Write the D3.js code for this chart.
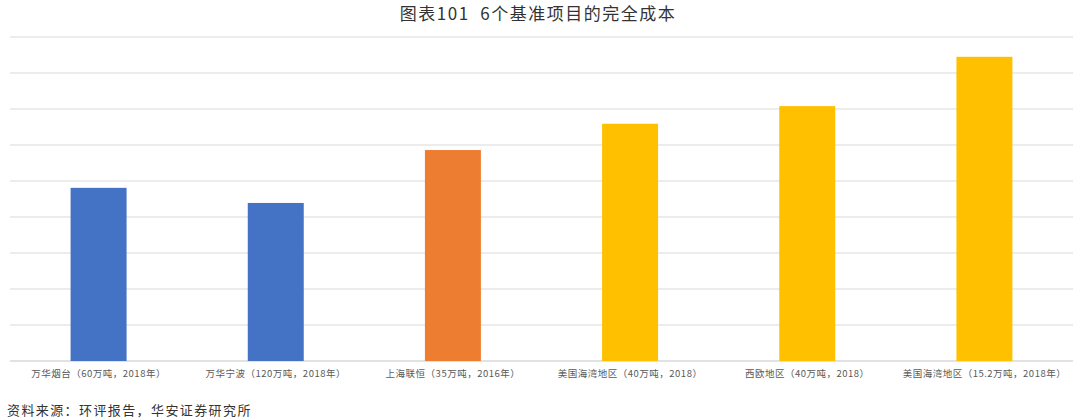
<!DOCTYPE html>
<html>
<head>
<meta charset="utf-8">
<script src="https://cdn.jsdelivr.net/npm/d3@7"></script>
<style>
  body { margin: 0; background: #fff; }
  text { font-family: "Noto Sans CJK SC", "Noto Sans", sans-serif; }
</style>
</head>
<body>
<div id="chart"></div>
<script>
var width = 1080,
    height = 420;

// data (no axis labels in the original, unit = gridline step 200)
var categories = [
    "万华烟台（60万吨，2018年）",
    "万华宁波（120万吨，2018年）",
    "上海联恒（35万吨，2016年）",
    "美国海湾地区（40万吨，2018）",
    "西欧地区（40万吨，2018）",
    "美国海湾地区（15.2万吨，2018年）"
];
var costs = [962, 878, 1172, 1318, 1416, 1690];
var barColors = ["#4472C4", "#4472C4", "#ED7D31", "#FFC000", "#FFC000", "#FFC000"];
var gridTicks = [0, 200, 400, 600, 800, 1000, 1200, 1400, 1600, 1800];

var margin = {top: 37, right: 7, bottom: 59, left: 10};

var svg = d3.select("#chart").append("svg")
    .attr("width", width)
    .attr("height", height);

var x = d3.scaleBand()
    .domain(categories)
    .range([margin.left, width - margin.right])
    .paddingInner(0.684)
    .paddingOuter(0.342);

var y = d3.scaleLinear()
    .domain([0, 1800])
    .range([height - margin.bottom, margin.top]);

// title
svg.append("text")
    .attr("x", 538)
    .attr("y", 20)
    .attr("text-anchor", "middle")
    .attr("font-size", "17px")
    .attr("letter-spacing", "1.5px")
    .attr("fill", "#333")
    .style("white-space", "pre")
    .text("图表101  6个基准项目的完全成本");

// gridlines
svg.append("g")
    .selectAll("line")
    .data(gridTicks)
    .enter().append("line")
    .attr("x1", margin.left)
    .attr("x2", width - margin.right)
    .attr("y1", function (d) { return y(d); })
    .attr("y2", function (d) { return y(d); })
    .style("stroke", function (d) { return d === 0 ? "#d9d9d9" : "#e6e6e6"; })
    .style("stroke-width", 1.5);

// bars
svg.append("g")
    .selectAll("rect")
    .data(costs)
    .enter().append("rect")
    .attr("x", function (d, i) { return x(categories[i]); })
    .attr("width", x.bandwidth())
    .attr("y", function (d) { return y(d); })
    .attr("height", function (d) { return y(0) - y(d); })
    .style("fill", function (d, i) { return barColors[i]; });

// category axis
var xAxis = svg.append("g")
    .attr("transform", "translate(0," + y(0) + ")")
    .call(d3.axisBottom(x).tickSize(0).tickPadding(9));
xAxis.select(".domain").remove();
xAxis.selectAll("text")
    .attr("font-family", "\"Noto Sans CJK SC\", sans-serif")
    .attr("font-size", "9.5px")
    .attr("letter-spacing", "0.5px")
    .attr("fill", "#595959");

// source note
svg.append("text")
    .attr("x", 7)
    .attr("y", 415)
    .attr("font-size", "13px")
    .attr("letter-spacing", "1.4px")
    .attr("fill", "#333")
    .text("资料来源：环评报告，华安证券研究所");
</script>
</body>
</html>
